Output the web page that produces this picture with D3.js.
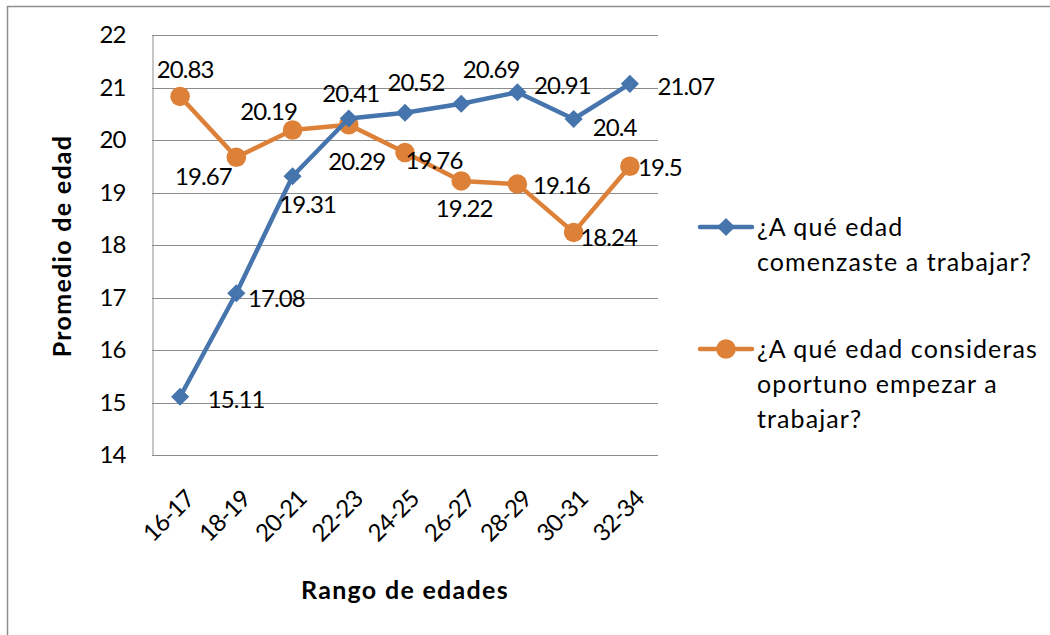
<!DOCTYPE html>
<html>
<head>
<meta charset="utf-8">
<script src="https://cdn.jsdelivr.net/npm/d3@7"></script>
<style>
  html, body { margin: 0; padding: 0; background: #fff; }
  svg { display: block; font-family: Lato, "Open Sans", sans-serif; }
</style>
</head>
<body>
<svg id="chart" width="1050" height="635"></svg>
<script>
// ---- data ----
const categories = ["16-17", "18-19", "20-21", "22-23", "24-25", "26-27", "28-29", "30-31", "32-34"];
const seriesNames = ["¿A qué edad comenzaste a trabajar?", "¿A qué edad consideras oportuno empezar a trabajar?"];
const startedValues = [15.11, 17.08, 19.31, 20.41, 20.52, 20.69, 20.91, 20.4, 21.07];
const idealValues = [20.83, 19.67, 20.19, 20.29, 19.76, 19.22, 19.16, 18.24, 19.5];
const yTicks = [14, 15, 16, 17, 18, 19, 20, 21, 22];
const yTitle = "Promedio de edad";
const xTitle = "Rango de edades";
const legendLines = [["¿A qué edad", "comenzaste a trabajar?"], ["¿A qué edad consideras", "oportuno empezar a", "trabajar?"]];

// ---- layout (label offsets relative to each point, in px) ----
const startedLabelOffsets = [[56, 3], [40, 5], [15, 28], [2, -25], [11, -30], [30, -34], [45, -7], [41, 8], [56, 3]];
const idealLabelOffsets = [[5, -27], [-33, 19], [-24, -19], [8, 37], [29, 8], [3, 27], [44, 1], [35, 5], [30, 1]];

const BLUE = "#4674AC", ORANGE = "#DD8139", GRID = "#8C8C8C";
const NUM_SIZE = 24, NUM_LS = -0.9;
const svg = d3.select("#chart");
const plot = { left: 152, right: 658, top: 35, bottom: 455 };

// outer border (top and left visible)
svg.append("path").attr("d", "M7.5,640 V6.5 H1060").attr("fill", "none").attr("stroke", "#8E8E8E").attr("stroke-width", 1.5);

const x = d3.scalePoint().domain(categories).range([plot.left, plot.right]).padding(0.5);
const y = d3.scaleLinear().domain([14, 22]).range([plot.bottom, plot.top]);

// gridlines
svg.append("g").selectAll("line").data(yTicks).join("line")
  .attr("x1", plot.left).attr("x2", plot.right)
  .attr("y1", d => Math.round(y(d)) + 0.5).attr("y2", d => Math.round(y(d)) + 0.5)
  .attr("stroke", GRID).attr("stroke-width", 1);

// y axis
const yAxis = svg.append("g").attr("transform", `translate(${plot.left + 0.5},0)`)
  .call(d3.axisLeft(y).tickValues(yTicks).tickSize(0).tickPadding(27).tickFormat(d3.format("d")));
yAxis.select(".domain").attr("stroke", GRID);
yAxis.selectAll("text").attr("font-size", NUM_SIZE).attr("letter-spacing", NUM_LS).attr("fill", "#000").attr("font-family", "Lato");

// x axis
const xAxis = svg.append("g").attr("transform", `translate(0,${Math.round(plot.bottom) + 0.5})`)
  .call(d3.axisBottom(x).tickSize(0).tickPadding(0));
xAxis.select(".domain").attr("stroke", GRID).attr("d", `M${plot.left},0H${plot.right}`);
xAxis.selectAll("text")
  .attr("font-size", NUM_SIZE).attr("letter-spacing", NUM_LS).attr("fill", "#000").attr("font-family", "Lato")
  .attr("text-anchor", "end")
  .attr("y", 0).attr("dy", 0)
  .attr("transform", "translate(15,45) rotate(-45)");

// axis titles
svg.append("text").attr("transform", "translate(71,246) rotate(-90)")
  .attr("text-anchor", "middle").attr("font-weight", "bold").attr("font-size", 25).attr("letter-spacing", 1.3).text(yTitle);
svg.append("text").attr("x", 405).attr("y", 599)
  .attr("text-anchor", "middle").attr("font-weight", "bold").attr("font-size", 25).attr("letter-spacing", 1.3).text(xTitle);

const line = d3.line().x((d, i) => x(categories[i])).y(d => y(d));
const diamond = d3.symbol().type(d3.symbolDiamond2).size(210);
const circle = d3.symbol().type(d3.symbolCircle).size(300);

function drawSeries(values, color, shape) {
  const g = svg.append("g");
  g.append("path").datum(values).attr("d", line)
    .attr("fill", "none").attr("stroke", color).attr("stroke-width", 4.5).attr("stroke-linejoin", "round");
  g.selectAll("path.m").data(values).join("path").attr("class", "m")
    .attr("transform", (d, i) => `translate(${x(categories[i])},${y(d)})`)
    .attr("d", shape).attr("fill", color);
  return g;
}
function drawLabels(values, offsets) {
  svg.append("g").selectAll("text").data(values).join("text")
    .attr("x", (d, i) => x(categories[i]) + offsets[i][0])
    .attr("y", (d, i) => y(d) + offsets[i][1])
    .attr("dy", "0.36em").attr("text-anchor", "middle").attr("font-size", NUM_SIZE).attr("letter-spacing", NUM_LS).attr("fill", "#000")
    .text(d => String(d));
}
drawSeries(idealValues, ORANGE, circle);
drawSeries(startedValues, BLUE, diamond);
drawLabels(startedValues, startedLabelOffsets);
drawLabels(idealValues, idealLabelOffsets);

// legend
const legendTop = [227, 349];
const colors = [BLUE, ORANGE];
const shapes = [diamond, circle];
legendLines.forEach((lines, k) => {
  const g = svg.append("g").attr("transform", `translate(0,${legendTop[k]})`);
  g.append("line").attr("x1", 700).attr("x2", 752).attr("y1", 0).attr("y2", 0)
    .attr("stroke", colors[k]).attr("stroke-width", 4.5).attr("stroke-linecap", "round");
  g.append("path").attr("transform", "translate(726,0)").attr("d", shapes[k]).attr("fill", colors[k]);
  const t = g.append("text").attr("x", 757).attr("y", 0).attr("font-size", 25).attr("letter-spacing", 1.1).attr("fill", "#000");
  lines.forEach((s, j) => t.append("tspan").attr("x", 757).attr("dy", j === 0 ? "0.36em" : 35).text(s));
});
</script>
</body>
</html>
